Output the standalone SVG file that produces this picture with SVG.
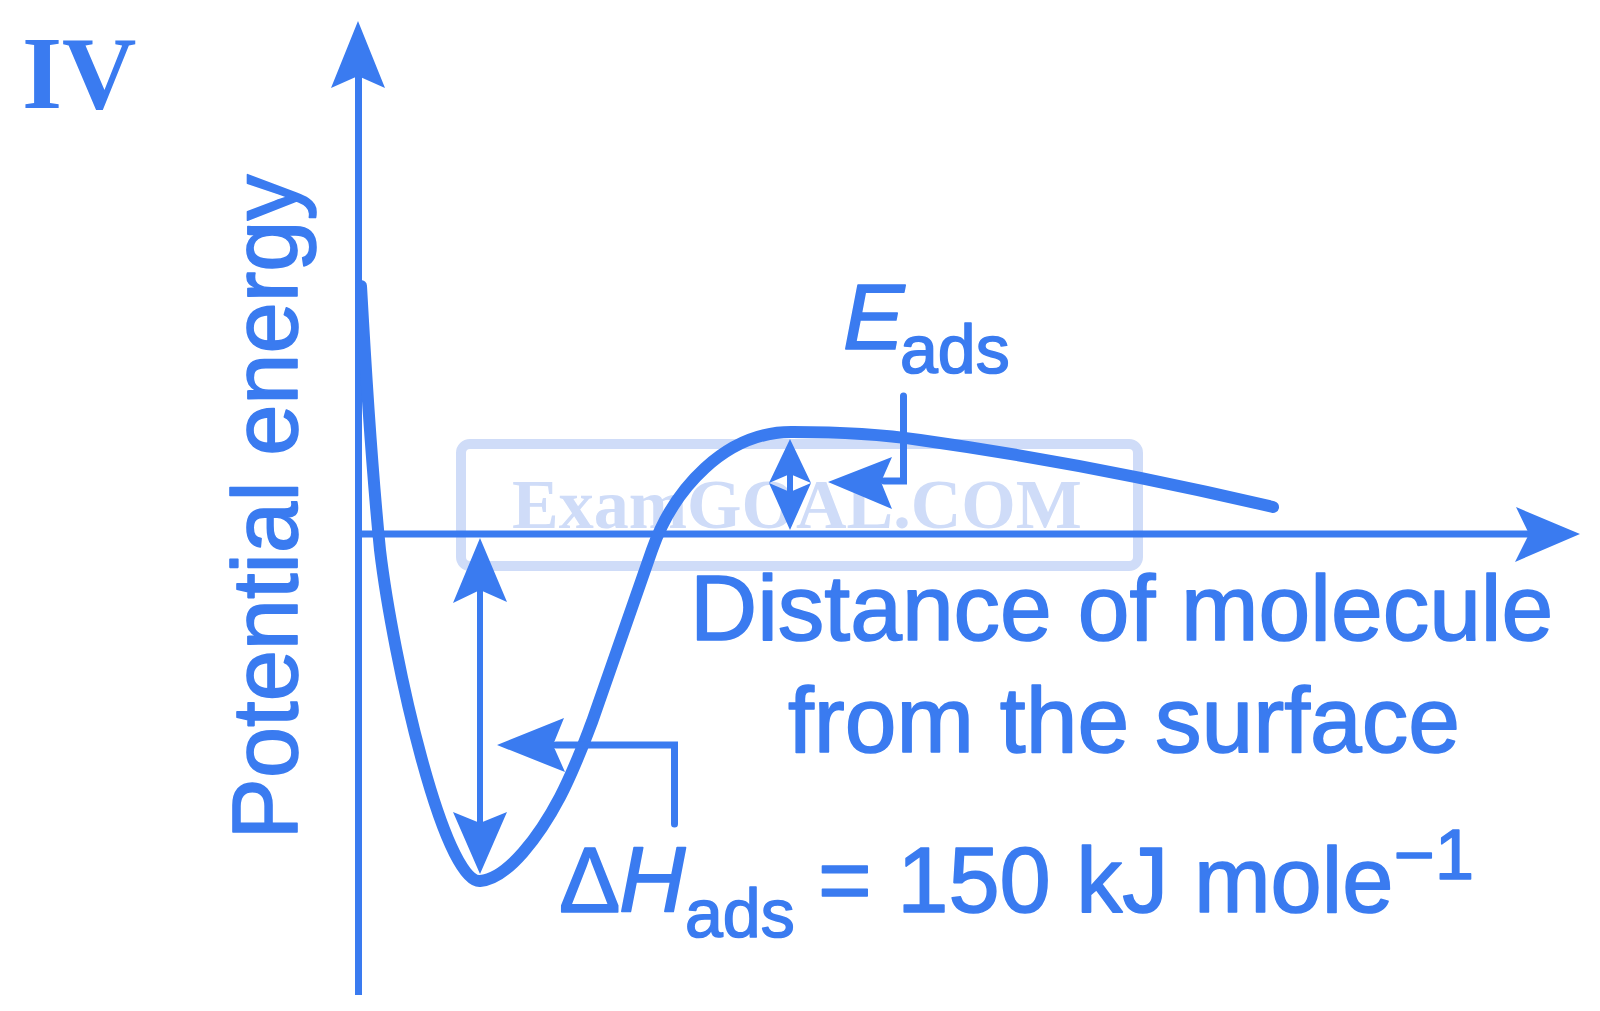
<svg xmlns="http://www.w3.org/2000/svg" width="1600" height="1011" viewBox="0 0 1600 1011">
<style>
.ln{fill:none;stroke:#3a7bf0;stroke-width:7}
.thin{fill:none;stroke:#3a7bf0;stroke-width:6}
.crv{fill:none;stroke:#3a7bf0;stroke-width:12;stroke-linejoin:round}
.hd{fill:#3a7bf0;stroke:none}
.t{font-family:"Liberation Sans",Arial,sans-serif;fill:#3a7bf0;stroke:#3a7bf0;stroke-width:1.6;stroke-linejoin:round}
.wm{fill:none;stroke:#cfdcf8;stroke-width:10}
.wmt{font-family:"Liberation Serif","Times New Roman",serif;font-weight:bold;fill:#cfdcf8}
</style>
<rect width="1600" height="1011" fill="#ffffff"/>
<g id="watermark">
<rect class="wm" x="461" y="444" width="677" height="122" rx="9"/>
<text class="wmt" x="512" y="528" font-size="70">ExamGOAL.COM</text>
</g>
<g id="connectors">
<line id="y-axis" class="ln" x1="358.5" y1="70" x2="358.5" y2="995"/>
<polygon class="hd" points="358,21 385,88 358,76 331,88"/>
<line id="x-axis" class="ln" x1="358" y1="534" x2="1535" y2="534"/>
<polygon class="hd" points="1580,534 1516,507 1529,534 1515,562"/>
<path id="energy-curve" class="crv" d="M 361 286 C 364 340, 372 470, 380 550 C 393 660, 444 884, 480 881 C 508 879, 540 835, 560 797 C 575 768, 585 740, 592 722 L 652 550 C 673 490, 725 431, 793 432 C 840 432, 880 434, 920 440 C 1020 454, 1150 478, 1273 507" stroke-linecap="round"/>
<g id="dH-arrow">
<line class="thin" x1="480" y1="585" x2="480" y2="828"/>
<polygon class="hd" points="480,538 507,602 480,590 453,603"/>
<polygon class="hd" points="480,874 453,812 480,823 507,812"/>
</g>
<g id="dH-leader">
<polyline class="ln" points="556,745 674.5,745 674.5,824" stroke-linecap="round"/>
<polygon class="hd" points="497,745 564,718 553,745 565,772"/>
</g>
<g id="Eads-arrow">
<line class="thin" x1="790" y1="472" x2="790" y2="493"/>
<polygon class="hd" points="790,439 811,483 790,474 769,483"/>
<polygon class="hd" points="790,530 769,483 790,492 811,483"/>
</g>
<g id="Eads-leader">
<polyline class="ln" points="884,481 903.5,481 903.5,396" stroke-linecap="round"/>
<polygon class="hd" points="828,482 892,457 881,482 892,509"/>
</g>
</g>
<g id="label-IV">
<text x="22" y="108" font-family="Liberation Serif,'Times New Roman',serif" font-weight="bold" font-size="103" fill="#3a7bf0">IV</text>
</g>
<g id="label-y-axis">
<text class="t" font-size="92" text-anchor="middle" transform="translate(297,507) rotate(-90)">Potential energy</text>
</g>
<g id="label-x-axis">
<text class="t" x="690" y="640" font-size="93">Distance of molecule</text>
<text class="t" x="788" y="752" font-size="93">from the surface</text>
</g>
<g id="label-Eads">
<text class="t" x="843" y="349" font-size="92" font-style="italic">E</text>
<text class="t" x="900" y="373" font-size="68">ads</text>
</g>
<g id="label-dHads">
<text class="t" x="559" y="912" font-size="92">Δ</text>
<text class="t" x="619" y="912" font-size="92" font-style="italic">H</text>
<text class="t" x="685" y="937" font-size="68">ads</text>
<text class="t" x="818" y="912" font-size="92">= 150 kJ mole</text>
<text class="t" x="1394" y="879" font-size="70">−1</text>
</g>
</svg>
